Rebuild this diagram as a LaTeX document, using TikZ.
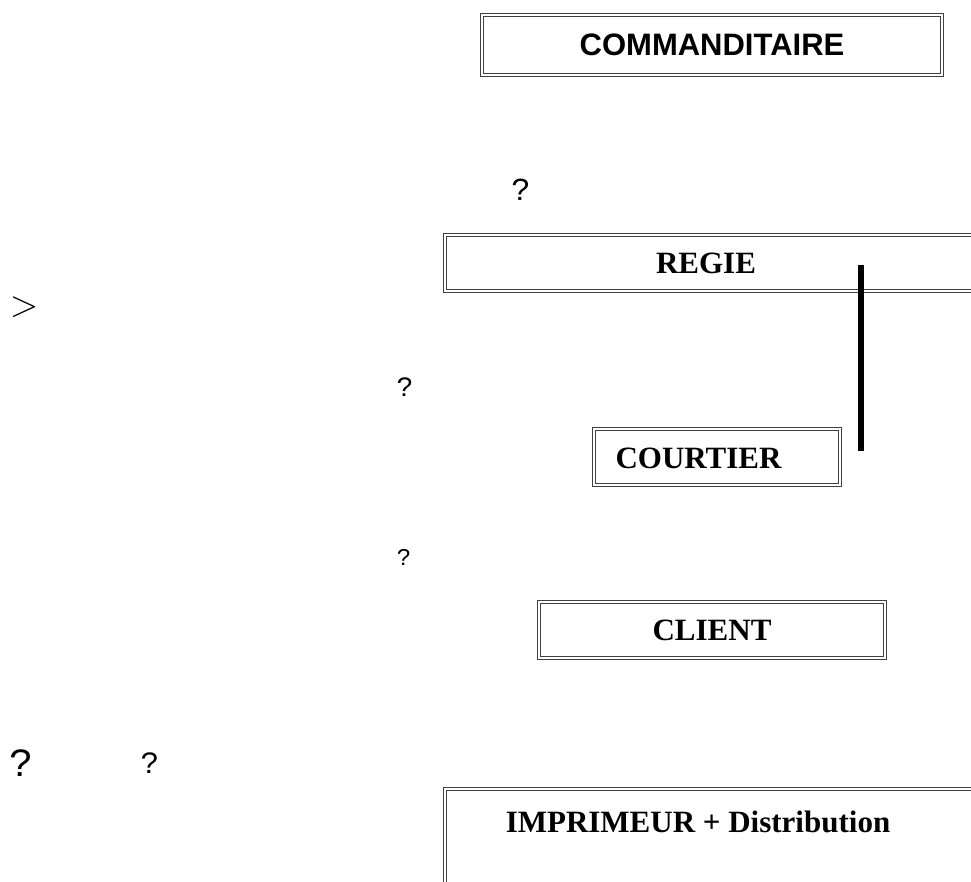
\documentclass[tikz,border=0pt]{standalone}
\usepackage{fontspec}
\setmainfont{Liberation Serif}
\setsansfont{Liberation Sans}
\setmonofont{Liberation Mono}
\usetikzlibrary{positioning}

\tikzset{
  dbox/.style={draw=black!75, double=white, double distance=1.6pt, line width=0.9pt},
  boxlabel/.style={font=\fontsize{31}{36}\selectfont\bfseries},
  qmark/.style={font=\ttfamily\fontsize{#1}{#1}\selectfont, inner sep=0pt}
}

\begin{document}
\begin{tikzpicture}[x=1pt, y=-1pt]
                        \useasboundingbox (0,0) rectangle (971,881);
                        \clip (0,0) rectangle (971,881);
                        % boxes
                        \node[dbox, minimum width=460pt, minimum height=60pt, inner sep=0pt,
                              boxlabel, font=\sffamily\fontsize{31}{36}\selectfont\bfseries] (commanditaire) at (712,45) {COMMANDITAIRE};
                        \draw[dbox] (445,235) rectangle (1000,291);
                        \node[boxlabel] (regie) at (706,263) {REGIE};
                        \node[dbox, minimum width=246pt, minimum height=56pt, inner sep=0pt,
                              boxlabel] (courtier) at (717,457) {};
                        \node[boxlabel, anchor=west] (courtierlabel) at (612,458) {COURTIER};
                        \node[dbox, minimum width=346pt, minimum height=56pt, inner sep=0pt,
                              boxlabel] (client) at (712,630) {CLIENT};
                        \draw[dbox] (445,789) rectangle (1000,900);
                        \node[boxlabel] (imprimeur) at (698,822) {IMPRIMEUR + Distribution};
                        % bar
                        \coordinate (bartop) at (861,265);
                        \coordinate (barbot) at (861,451);
                        \draw[line width=6pt] (bartop) -- (barbot);
                        % signs
                        \node[qmark=32] (q1) at (521,190) {?};
                        \node[qmark=28] (q2) at (405,387) {?};
                        \node[qmark=24] (q3) at (404,557) {?};
                        \node[qmark=40] (q4) at (22,763) {?};
                        \node[qmark=31] (q5) at (150,763) {?};
                        \node[inner sep=0pt] (gt) at (24,307) {\scalebox{1.5}{\fontsize{24}{24}\selectfont$>$}};
                    \end{tikzpicture}
\end{document}
